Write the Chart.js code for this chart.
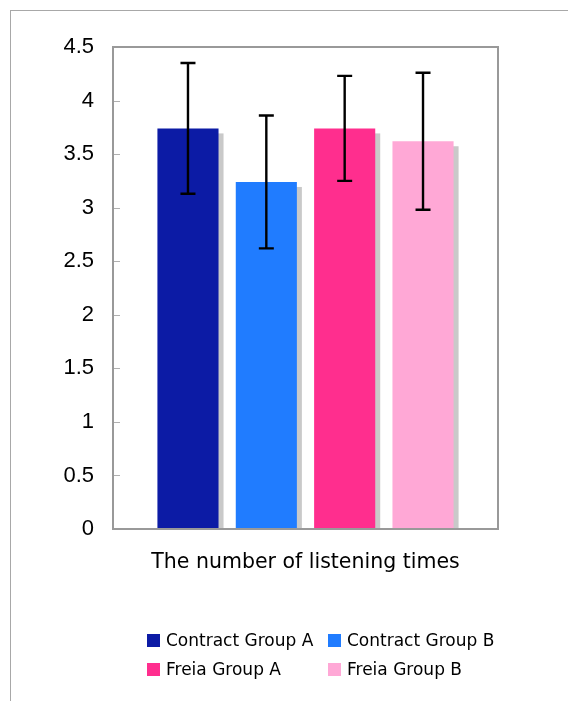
<!DOCTYPE html>
<html>
<head>
<meta charset="utf-8">
<script src="https://cdn.jsdelivr.net/npm/chart.js@4"></script>
<style>
  html, body { margin: 0; padding: 0; background: #fff; }
  #wrap { position: relative; width: 568px; height: 701px; overflow: hidden; }
  #frame { position: absolute; left: 10px; top: 10px; width: 557px; height: 700px;
           border-top: 1px solid #a8a8a8; border-left: 1px solid #a8a8a8; }
  canvas { position: absolute; left: 0; top: 0; }
  #legend { position: absolute; left: 147px; top: 630px; display: grid;
            grid-template-columns: 181px 170px; row-gap: 9px;
            font-family: "DejaVu Sans", sans-serif; font-size: 17px; color: #000; }
  #legend div { display: flex; align-items: center; height: 20px; white-space: nowrap; }
  #legend span.box { width: 13px; height: 13px; margin-right: 6px; display: inline-block; }
</style>
</head>
<body>
<div id="wrap">
  <div id="frame"></div>
  <canvas id="myChart" width="568" height="701"></canvas>
  <div id="legend"></div>
</div>
<script>
const categories = ['The number of listening times'];
const groupNames = ['Contract Group A', 'Contract Group B', 'Freia Group A', 'Freia Group B'];
const means = [3.74, 3.24, 3.74, 3.62];
const errors = [0.61, 0.62, 0.49, 0.64];
const yTicks = [0, 0.5, 1, 1.5, 2, 2.5, 3, 3.5, 4, 4.5];
const colors = ['#0c1ba5', '#207cff', '#ff2e8e', '#ffa8d6'];

// gray drop shadow behind each bar
const barShadow = {
  id: 'barShadow',
  beforeDatasetsDraw(chart) {
    const ctx = chart.ctx;
    const base = chart.scales.y.getPixelForValue(0);
    ctx.save();
    ctx.fillStyle = '#c9c9c9';
    chart.data.datasets.forEach((ds, i) => {
      chart.getDatasetMeta(i).data.forEach(bar => {
        const left = bar.x - bar.width / 2 + 5;
        ctx.fillRect(left, bar.y + 5, bar.width, base - bar.y - 5);
      });
    });
    ctx.restore();
  }
};

// error bars, plot frame and inner ticks
const extras = {
  id: 'extras',
  afterDatasetsDraw(chart) {
    const ctx = chart.ctx;
    const y = chart.scales.y;
    const a = chart.chartArea;
    ctx.save();
    ctx.strokeStyle = '#000';
    ctx.lineWidth = 2.4;
    chart.data.datasets.forEach((ds, i) => {
      chart.getDatasetMeta(i).data.forEach((bar, j) => {
        const v = ds.data[j], e = ds.err[j];
        const top = y.getPixelForValue(v + e), bot = y.getPixelForValue(v - e);
        ctx.beginPath();
        ctx.moveTo(bar.x, top); ctx.lineTo(bar.x, bot);
        ctx.moveTo(bar.x - 7.5, top); ctx.lineTo(bar.x + 7.5, top);
        ctx.moveTo(bar.x - 7.5, bot); ctx.lineTo(bar.x + 7.5, bot);
        ctx.stroke();
      });
    });
    ctx.strokeStyle = '#b0b0b0';
    ctx.lineWidth = 1;
    yTicks.forEach(t => {
      if (t === 0 || t === 4.5) return;
      const py = Math.round(y.getPixelForValue(t)) + 0.5;
      ctx.beginPath();
      ctx.moveTo(a.left, py); ctx.lineTo(a.left + 7, py);
      ctx.stroke();
    });
    ctx.strokeStyle = '#999';
    ctx.lineWidth = 2;
    ctx.strokeRect(a.left, a.top, a.right - a.left, a.bottom - a.top);
    ctx.restore();
  }
};

const chart = new Chart('myChart', {
  type: 'bar',
  data: {
    labels: categories,
    datasets: groupNames.map((name, i) => ({
      label: name,
      data: [means[i]],
      err: [errors[i]],
      backgroundColor: colors[i],
      borderWidth: 0,
      categoryPercentage: 0.814,
      barPercentage: 0.78
    }))
  },
  options: {
    responsive: false,
    animation: false,
    layout: { padding: { top: 47, right: 70, bottom: 122, left: 0 } },
    plugins: { legend: { display: false }, tooltip: { enabled: false } },
    scales: {
      x: {
        grid: { display: false, drawTicks: false },
        border: { display: false },
        ticks: { color: '#000', padding: 21, font: { family: '"DejaVu Sans", sans-serif', size: 20.5 } },
        afterFit(scale) { scale.height = 50; }
      },
      y: {
        min: 0, max: 4.5,
        grid: { display: false, drawTicks: false },
        border: { display: false },
        ticks: {
          stepSize: 0.5, color: '#000', padding: 19,
          font: { family: '"Liberation Sans", Arial, sans-serif', size: 22 },
          callback: v => String(v)
        },
        afterFit(scale) { scale.width = 113; }
      }
    }
  },
  plugins: [barShadow, extras]
});

const legend = document.getElementById('legend');
chart.data.datasets.forEach(ds => {
  const item = document.createElement('div');
  const box = document.createElement('span');
  box.className = 'box';
  box.style.background = ds.backgroundColor;
  item.appendChild(box);
  item.appendChild(document.createTextNode(ds.label));
  legend.appendChild(item);
});
</script>
</body>
</html>
